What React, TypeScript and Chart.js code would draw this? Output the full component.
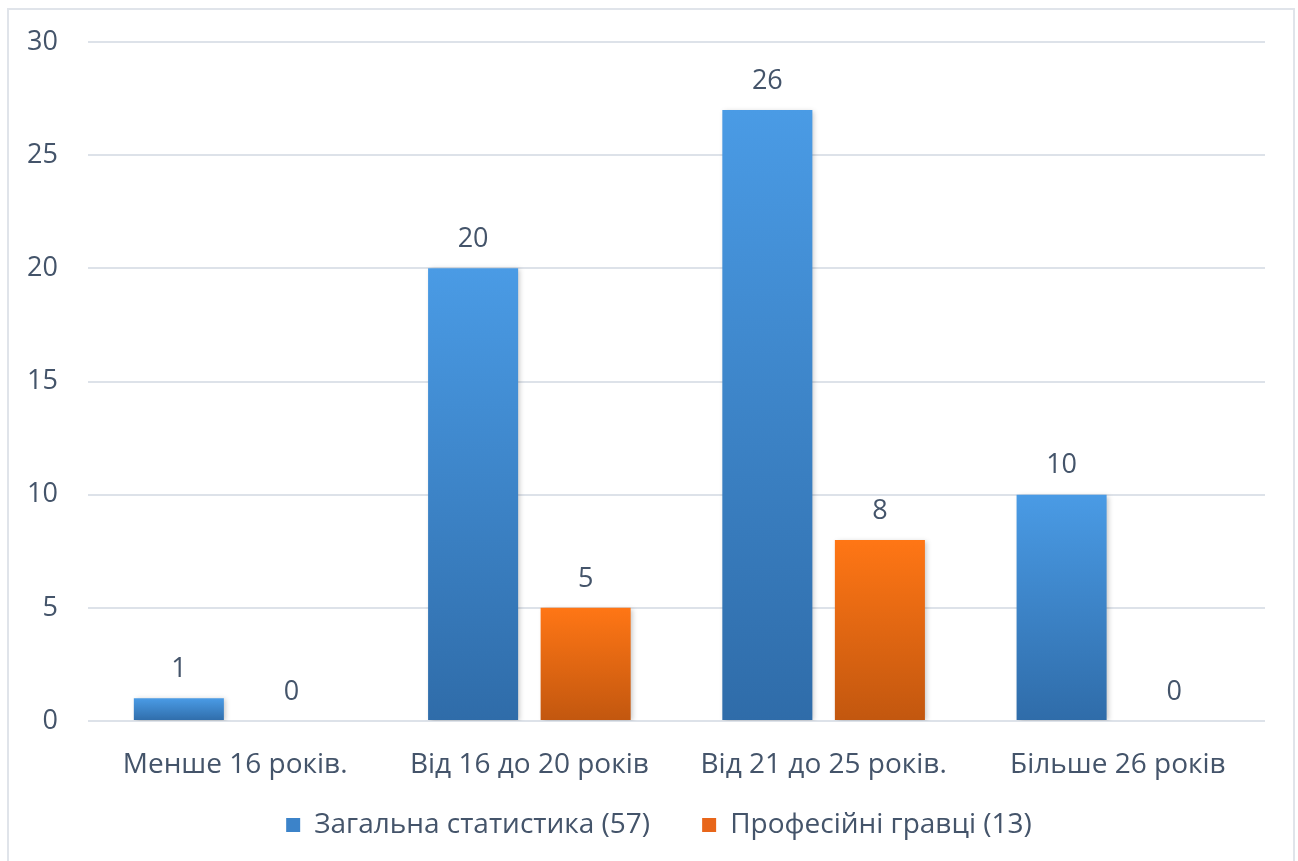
import React, { useEffect, useRef } from "react";
import { Chart, registerables } from "chart.js";

Chart.register(...registerables);

const categories = ["Менше 16 років.", "Від 16 до 20 років", "Від 21 до 25 років.", "Більше 26 років"];
const totalValues = [1, 20, 27, 10];
const totalLabels = ["1", "20", "26", "10"];
const proValues = [0, 5, 8, 0];
const proLabels = ["0", "5", "8", "0"];
const seriesNames = ["Загальна статистика (57)", "Професійні гравці (13)"];
const yTicks = [0, 5, 10, 15, 20, 25, 30];

const FONT = "'Open Sans', 'DejaVu Sans', sans-serif";
const TEXT = "#44546a";

function barGradient(top: string, bottom: string) {
  return (ctx: any) => {
    const chart = ctx.chart;
    if (ctx.type !== "data") return top;
    const yScale = chart.scales.y;
    if (!yScale || !chart.chartArea) return top;
    const v = ctx.raw as number;
    const y0 = yScale.getPixelForValue(v);
    const y1 = yScale.getPixelForValue(0);
    if (!isFinite(y0) || !isFinite(y1) || y0 === y1) return top;
    const g = chart.ctx.createLinearGradient(0, y0, 0, y1);
    g.addColorStop(0, top);
    g.addColorStop(1, bottom);
    return g;
  };
}

const dataLabelPlugin = {
  id: "dataLabels",
  afterDatasetsDraw(chart: any) {
    const ctx = chart.ctx;
    const labelSets = [totalLabels, proLabels];
    ctx.save();
    ctx.font = `27px ${FONT}`;
    ctx.fillStyle = TEXT;
    ctx.textAlign = "center";
    ctx.textBaseline = "middle";
    chart.data.datasets.forEach((_: any, di: number) => {
      const meta = chart.getDatasetMeta(di);
      meta.data.forEach((bar: any, i: number) => {
        ctx.fillText(labelSets[di][i], bar.x, bar.y - 29);
      });
    });
    ctx.restore();
  },
};

const shadowPlugin = {
  id: "barShadow",
  beforeDatasetDraw(chart: any) {
    const ctx = chart.ctx;
    ctx.save();
    ctx.shadowColor = "rgba(0,0,0,0.22)";
    ctx.shadowBlur = 5;
    ctx.shadowOffsetX = 2;
    ctx.shadowOffsetY = 1;
  },
  afterDatasetDraw(chart: any) {
    chart.ctx.restore();
  },
};

const layoutTweakPlugin = {
  id: "layoutTweak",
  afterLayout(chart: any) {
    const x = chart.scales.x;
    if (x) x.bottom = x.top + 90;
    const lg = chart.legend;
    if (lg) {
      lg.left += 22;
      lg.right += 22;
    }
  },
};

export default function App() {
  const ref = useRef<HTMLCanvasElement>(null);
  useEffect(() => {
    if (!ref.current) return;
    const chart = new Chart(ref.current, {
      type: "bar",
      data: {
        labels: categories,
        datasets: [
          {
            label: seriesNames[0],
            data: totalValues,
            backgroundColor: barGradient("#4a9be5", "#2f6ca9"),
            categoryPercentage: 0.765,
            barPercentage: 0.8,
          },
          {
            label: seriesNames[1],
            data: proValues,
            backgroundColor: barGradient("#ff7615", "#c2570f"),
            categoryPercentage: 0.765,
            barPercentage: 0.8,
          },
        ],
      },
      options: {
        animation: false,
        responsive: false,
        maintainAspectRatio: false,
        layout: { padding: { top: 32, right: 28, left: 0, bottom: 12 } },
        plugins: {
          tooltip: { enabled: false },
          legend: {
            position: "bottom",
            labels: {
              font: { family: FONT, size: 28 },
              color: TEXT,
              boxWidth: 14,
              boxHeight: 14,
              padding: 52,
              generateLabels: () => [
                { text: seriesNames[0], fillStyle: "#3c83c9", strokeStyle: "#3c83c9", lineWidth: 0, datasetIndex: 0, fontColor: TEXT },
                { text: seriesNames[1], fillStyle: "#e8661a", strokeStyle: "#e8661a", lineWidth: 0, datasetIndex: 1, fontColor: TEXT },
              ],
            },
          },
        },
        scales: {
          x: {
            grid: { display: false, drawTicks: false },
            border: { display: false },
            ticks: { font: { family: FONT, size: 28 }, color: TEXT, padding: 27 },
            afterFit: (s: any) => {
              s.height = 38;
              s.paddingLeft = 0;
              s.paddingRight = 0;
            },
          },
          y: {
            min: 0,
            max: 30,
            afterBuildTicks: (s: any) => {
              s.ticks = yTicks.map((v) => ({ value: v }));
            },
            grid: { color: "#dde2e9", lineWidth: 2, drawTicks: false },
            border: { display: false },
            ticks: { font: { family: FONT, size: 27 }, color: TEXT, padding: 30 },
            afterFit: (s: any) => {
              s.width = 79;
              s.paddingTop = 0;
              s.paddingBottom = 0;
            },
          },
        },
      },
      plugins: [shadowPlugin, dataLabelPlugin, layoutTweakPlugin],
    });
    return () => chart.destroy();
  }, []);
  return (
    <div
      style={{
        position: "fixed",
        left: 7,
        top: 8,
        width: 1284,
        height: 900,
        border: "2px solid #e0e4ea",
        background: "#fff",
      }}
    >
      <canvas ref={ref} width={1284} height={851} style={{ display: "block" }} />
    </div>
  );
}
